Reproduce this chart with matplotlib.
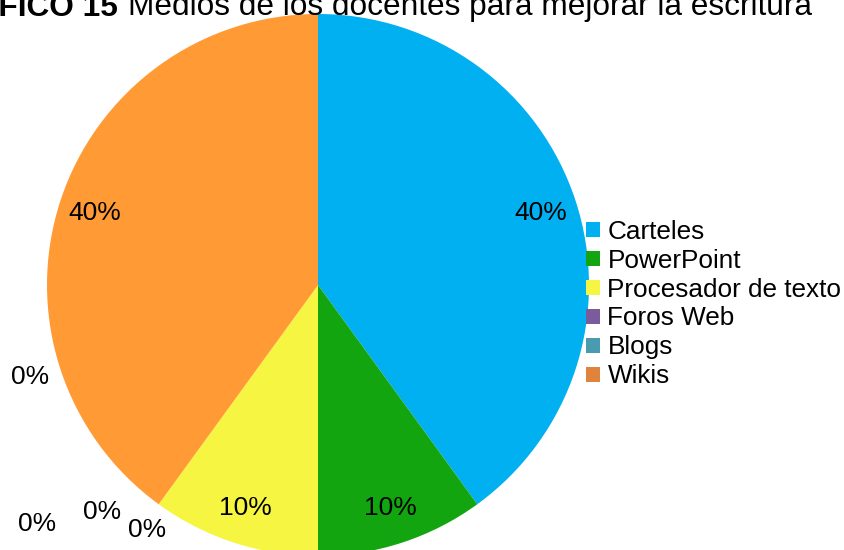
import matplotlib
matplotlib.use("Agg")
import matplotlib.pyplot as plt
import matplotlib.patches as patches

plt.rcParams['font.family'] = ['Liberation Sans', 'DejaVu Sans']

# data
categories = ["Carteles", "PowerPoint", "Procesador de texto", "Foros Web", "Blogs", "Wikis"]
values = [4, 1, 1, 0, 0, 4]
pie_colors = ["#00B0F0", "#13A510", "#F5F542", "#7A5B9C", "#4A9AB0", "#FF9A35"]
legend_colors = ["#00B0F0", "#13A510", "#F5F542", "#7A5B9C", "#4A9AB0", "#E0843D"]
zero_label_count = 4

fig = plt.figure(figsize=(8.45, 5.5), dpi=100)
ax = fig.add_axes([0, 0, 1, 1])
# pie radius 1 = 271 px, centre at pixel (318, 285)
R = 271.0

nz_vals = [v for v in values if v > 0]
nz_cols = [c for v, c in zip(values, pie_colors) if v > 0]
wedges, texts, autotexts = ax.pie(
    nz_vals, colors=nz_cols, startangle=90, counterclock=False,
    radius=1, center=(0, 0), autopct=lambda p: f"{p:.0f}%", pctdistance=0.865,
    textprops=dict(fontsize=19, color='black'), frame=True)
ax.set_xlim(-318 / R, (845 - 318) / R)
ax.set_ylim(-(550 - 285) / R, 285 / R)
ax.set_aspect('equal')
ax.axis('off')

# zero-value labels placed outside like the spreadsheet did
zero_pos = [(-1.063, -0.339), (-0.797, -0.838), (-0.631, -0.904), (-1.037, -0.882)]
for (x, y) in zero_pos[:zero_label_count]:
    ax.text(x, y, "0%", fontsize=19, ha='center', va='center')

handles = [patches.Patch(facecolor=c, edgecolor='none') for c in legend_colors]
leg = fig.legend(handles, categories, loc='center left', bbox_to_anchor=(586 / 845, 1 - 304 / 550),
                 frameon=False, fontsize=18.8, handlelength=0.52, handleheight=0.52,
                 handletextpad=0.3, labelspacing=0.19, borderaxespad=0, borderpad=0)

# title, partly cut off at the top/left like the original
t2 = fig.text(812 / 845, 1 - 15.5 / 550, "Medios de los docentes para mejorar la escritura",
              fontsize=22.8, ha='right', va='baseline')
fig.canvas.draw()
bb = t2.get_window_extent()
fig.text((bb.x0 - 10) / 845, 1 - 15.5 / 550, "GRÁFICO 15", fontsize=22.8, fontweight='bold',
         ha='right', va='baseline')

fig.savefig("out.png", dpi=100)
